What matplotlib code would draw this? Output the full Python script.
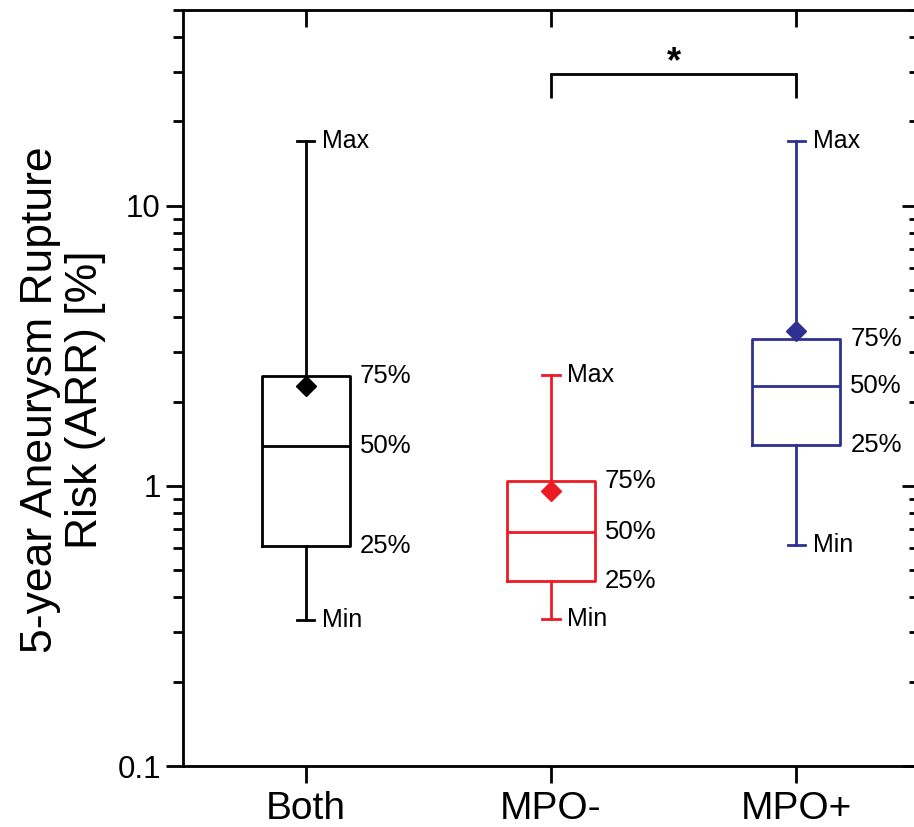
import matplotlib
matplotlib.use('Agg')
import matplotlib.pyplot as plt
from matplotlib.ticker import FixedLocator, FuncFormatter, LogLocator, NullFormatter

plt.rcParams['font.family'] = ['Liberation Sans', 'DejaVu Sans']

# data (values in %)
groups = ['Both', 'MPO-', 'MPO+']
colors = ['black', '#ED1C24', '#2E3192']
val_min = [0.333, 0.334, 0.615]
val_q1 = [0.61, 0.457, 1.40]
val_med = [1.39, 0.682, 2.27]
val_q3 = [2.47, 1.04, 3.35]
val_max = [17.1, 2.48, 17.1]
val_mean = [2.28, 0.96, 3.56]

# significance bracket between MPO- and MPO+
sig_pair = (2, 3)
sig_top = 29.5
sig_leg = 24.3
sig_text = '*'

lw = 2.0
box_w = 0.36
cap_w = 0.07

fig = plt.figure(figsize=(9.14, 8.27), dpi=100)
ax = fig.add_axes([183 / 914, 1 - 766 / 827, (919 - 183) / 914, (766 - 10) / 827])
ax.set_yscale('log')

positions = list(range(1, len(groups) + 1))
for i, pos in enumerate(positions):
    stats = [dict(med=val_med[i], q1=val_q1[i], q3=val_q3[i],
                  whislo=val_min[i], whishi=val_max[i],
                  mean=val_mean[i], fliers=[])]
    c = colors[i]
    ax.bxp(stats, positions=[pos], widths=box_w, capwidths=cap_w,
           showmeans=True, showfliers=False, manage_ticks=False,
           boxprops=dict(color=c, linewidth=lw),
           whiskerprops=dict(color=c, linewidth=lw),
           capprops=dict(color=c, linewidth=lw),
           medianprops=dict(color=c, linewidth=lw),
           meanprops=dict(marker='D', markerfacecolor=c, markeredgecolor=c,
                          markersize=10.5, zorder=5))
    # annotations
    ax.text(pos + 0.066, val_max[i], 'Max', fontsize=18, ha='left', va='center')
    ax.text(pos + 0.066, val_min[i], 'Min', fontsize=18, ha='left', va='center')
    for v, lab in zip([val_q3[i], val_med[i], val_q1[i]], ['75%', '50%', '25%']):
        ax.text(pos + box_w / 2 + 0.04, v, lab, fontsize=18.5, ha='left', va='center')

# significance bracket
x1, x2 = sig_pair
ax.plot([x1, x1, x2, x2], [sig_leg, sig_top, sig_top, sig_leg], color='black',
        linewidth=lw, solid_capstyle='butt', solid_joinstyle='miter')
ax.annotate(sig_text, xy=((x1 + x2) / 2, sig_top), xytext=(0, -4),
            textcoords='offset points', fontsize=26, fontweight='bold',
            ha='center', va='bottom')

ax.set_xlim(0.5, 3.5)
ax.set_ylim(0.1, 50)
ax.set_xticks(positions)
ax.set_xticklabels(groups, fontsize=28)
ax.yaxis.set_major_locator(FixedLocator([0.1, 1, 10]))
ax.yaxis.set_major_formatter(FuncFormatter(lambda v, p: '%g' % v))
ax.yaxis.set_minor_locator(LogLocator(base=10, subs=range(2, 10)))
ax.yaxis.set_minor_formatter(NullFormatter())
ax.tick_params(axis='both', which='major', direction='out', length=12, width=lw)
ax.tick_params(axis='y', which='minor', direction='out', length=7, width=lw)
ax.tick_params(axis='y', which='major', labelsize=22.5, pad=4)
ax.tick_params(axis='x', which='major', pad=6)
ax.tick_params(axis='x', which='minor', bottom=False)
for s in ax.spines.values():
    s.set_linewidth(lw)

# mirrored axes: inward ticks on top and right
axr = ax.twinx()
axr.set_yscale('log')
axr.set_ylim(ax.get_ylim())
axr.yaxis.set_major_locator(FixedLocator([0.1, 1, 10]))
axr.yaxis.set_minor_locator(LogLocator(base=10, subs=range(2, 10)))
axr.yaxis.set_major_formatter(NullFormatter())
axr.yaxis.set_minor_formatter(NullFormatter())
axr.tick_params(axis='y', which='major', direction='in', length=12, width=lw)
axr.tick_params(axis='y', which='minor', direction='in', length=7, width=lw)

axt = ax.twiny()
axt.set_xlim(ax.get_xlim())
axt.set_xticks(positions)
axt.set_xticklabels([])
axt.tick_params(axis='x', which='major', direction='in', length=12, width=lw)

fig.text(63 / 914, 1 - 400 / 827, '5-year Aneurysm Rupture\nRisk (ARR) [%]',
         rotation=90, fontsize=32, ha='center', va='center',
         multialignment='center', linespacing=1.12)

fig.savefig('out.png', dpi=100)
